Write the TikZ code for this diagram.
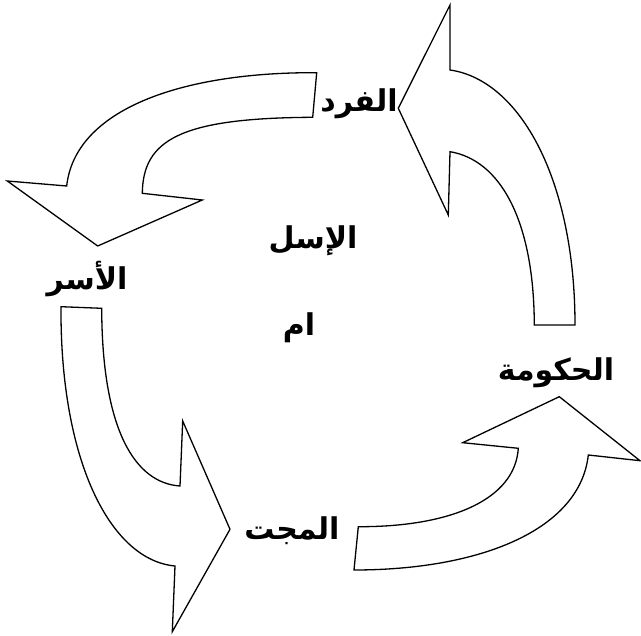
\documentclass[tikz,border=0pt]{standalone}
\usepackage{fontspec}
\TeXXeTstate=1
\newfontfamily\arabicfont[Script=Arabic]{DejaVu Sans}
\tikzset{
  blockarrow/.style={draw=black, fill=white, line width=1.3pt, line join=miter},
  lbl/.style={font=\arabicfont\bfseries\fontsize{30}{34}\selectfont, inner sep=0pt}
}
\begin{document}
\begin{tikzpicture}[x=1pt,y=-1pt]
\useasboundingbox (0,0) rectangle (641,636);
% top-left arrow (to family)
\draw[blockarrow] (316.7,72.7) .. controls (180,72) and (75,110) .. (66.7,186)
  -- (7.3,181) -- (97.7,246) -- (202.3,200) -- (142.3,193.3)
  .. controls (143,140) and (180,118) .. (312.7,117.3) -- cycle;
% top-right arrow (to individual)
\draw[blockarrow] (534.3,325) -- (575,325) .. controls (575,180) and (520,80) .. (450,70)
  -- (450,5) -- (398.3,108.3) -- (448.3,215) -- (450,151.7)
  .. controls (500,160) and (534,220) .. (534.3,325) -- cycle;
% bottom-left arrow (to society)
\draw[blockarrow] (61,306.7) .. controls (60,460) and (110,560) .. (175,566)
  -- (172.3,631.7) -- (230,529.3) -- (182.7,421) -- (180,486)
  .. controls (135,483) and (102,430) .. (101.7,308.3) -- cycle;
% bottom-right arrow (to government)
\draw[blockarrow] (358.3,526.7) .. controls (450,527) and (515,500) .. (518.3,448.3)
  -- (462.7,442.7) -- (559.3,396.7) -- (640,460.7) -- (588.3,455)
  .. controls (580,530) and (480,570) .. (354,570) -- cycle;
% labels
\node[lbl] (fard) at (359,104) {\beginR الفرد\endR};
\node[lbl] (usra) at (87,279) {\beginR الأسر\endR};
\node[lbl] (mujt) at (292,531) {\beginR المجت\endR};
\node[lbl] (huk) at (556,373) {\beginR الحكومة\endR};
\node[lbl] (isl) at (313,241) {\beginR الإسل\endR};
\node[lbl] (am) at (299,328) {\beginR ام\endR};
\end{tikzpicture}
\end{document}
